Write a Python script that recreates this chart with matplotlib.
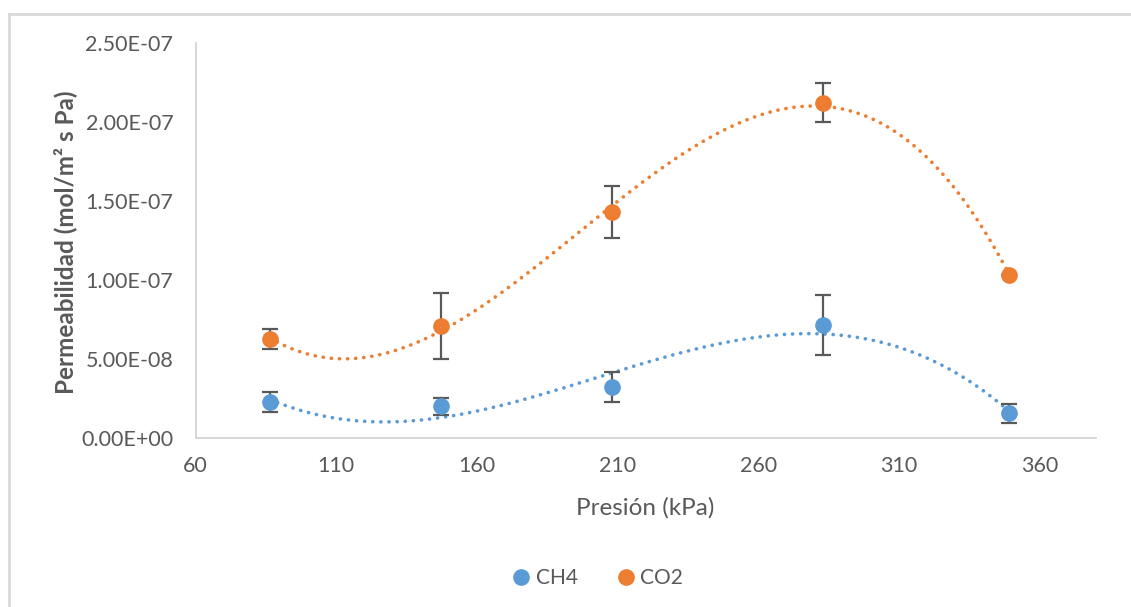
import numpy as np
import matplotlib
matplotlib.use("Agg")
import matplotlib.pyplot as plt
from matplotlib.lines import Line2D

plt.rcParams['font.family'] = ['Lato', 'DejaVu Sans']

# Pressure (kPa) and permeability (mol/m² s Pa)
pressure = [86.5, 147.2, 208.0, 283.2, 349.2]
ch4 = [2.22e-8, 1.97e-8, 3.17e-8, 7.10e-8, 1.52e-8]
ch4_err = [0.63e-8, 0.56e-8, 0.95e-8, 1.90e-8, 0.62e-8]
co2 = [6.22e-8, 7.04e-8, 14.28e-8, 21.20e-8, 10.28e-8]
co2_err = [0.63e-8, 2.10e-8, 1.65e-8, 1.24e-8, 0.0]

labels = ["CH4", "CO2"]
colors = ["#5B9BD5", "#ED7D31"]
trend_order = [3, 3]

x_ticks = [60, 110, 160, 210, 260, 310, 360]
y_ticks = [0, 5e-8, 1e-7, 1.5e-7, 2e-7, 2.5e-7]

W, H = 1131, 607
fig = plt.figure(figsize=(W / 100, H / 100), dpi=100)
ax = fig.add_axes([195.5 / W, 1 - 437.5 / H, (1095.7 - 195.5) / W, (437.5 - 42.7) / H])

text_c = "#595959"
x = np.array(pressure)
for vals, errs, c, order in zip([ch4, co2], [ch4_err, co2_err], colors, trend_order):
    # polynomial trendline over the measured range
    coef = np.polyfit(x, vals, order)
    xs = np.linspace(x.min(), x.max(), 400)
    ax.plot(xs, np.polyval(coef, xs), color=c, lw=2.6, ls=(0, (0.05, 2.2)),
            dash_capstyle='round', zorder=2)
    ax.errorbar(x, vals, yerr=errs, fmt='none', ecolor="#595959", elinewidth=1.6,
                capsize=5.5, capthick=1.6, zorder=3)
    ax.plot(x, vals, 'o', color=c, ms=11, mec=c, zorder=4)

ax.set_xlim(60, 380)
ax.set_ylim(0, 2.5e-7)
ax.set_xticks(x_ticks)
ax.set_yticks(y_ticks)
ax.set_yticklabels([f"{v:.2E}" for v in y_ticks])
ax.tick_params(length=0, labelsize=15.5, colors=text_c)
ax.tick_params(axis='y', pad=16)
ax.tick_params(axis='x', pad=13)
for s in ["top", "right"]:
    ax.spines[s].set_visible(False)
for s in ["left", "bottom"]:
    ax.spines[s].set_color("#D0D0D0")
    ax.spines[s].set_linewidth(1.2)

ax.set_xlabel("Presión (kPa)", fontsize=17.5, color=text_c, labelpad=15.5)
ax.set_ylabel("Permeabilidad (mol/m² s Pa)", fontsize=17.5, color=text_c,
              fontweight='bold', labelpad=3)
ax.yaxis.label.set_y(0.495)

handles = [Line2D([], [], marker='o', ls='none', color=c, ms=11) for c in colors]
fig.legend(handles, labels, loc='center', bbox_to_anchor=(597 / W, 1 - 578 / H),
           ncol=2, frameon=False, fontsize=15, labelcolor=text_c,
           handletextpad=0.2, columnspacing=1.8, handlelength=1.0)

# chart area border
fig.add_artist(plt.Line2D([8.5 / W, 8.5 / W], [0, 1 - 14 / H], transform=fig.transFigure,
                          color="#D9D9D9", lw=2))
fig.add_artist(plt.Line2D([8.5 / W, 1], [1 - 14 / H, 1 - 14 / H], transform=fig.transFigure,
                          color="#D9D9D9", lw=2))

fig.savefig("out.png", dpi=100)
